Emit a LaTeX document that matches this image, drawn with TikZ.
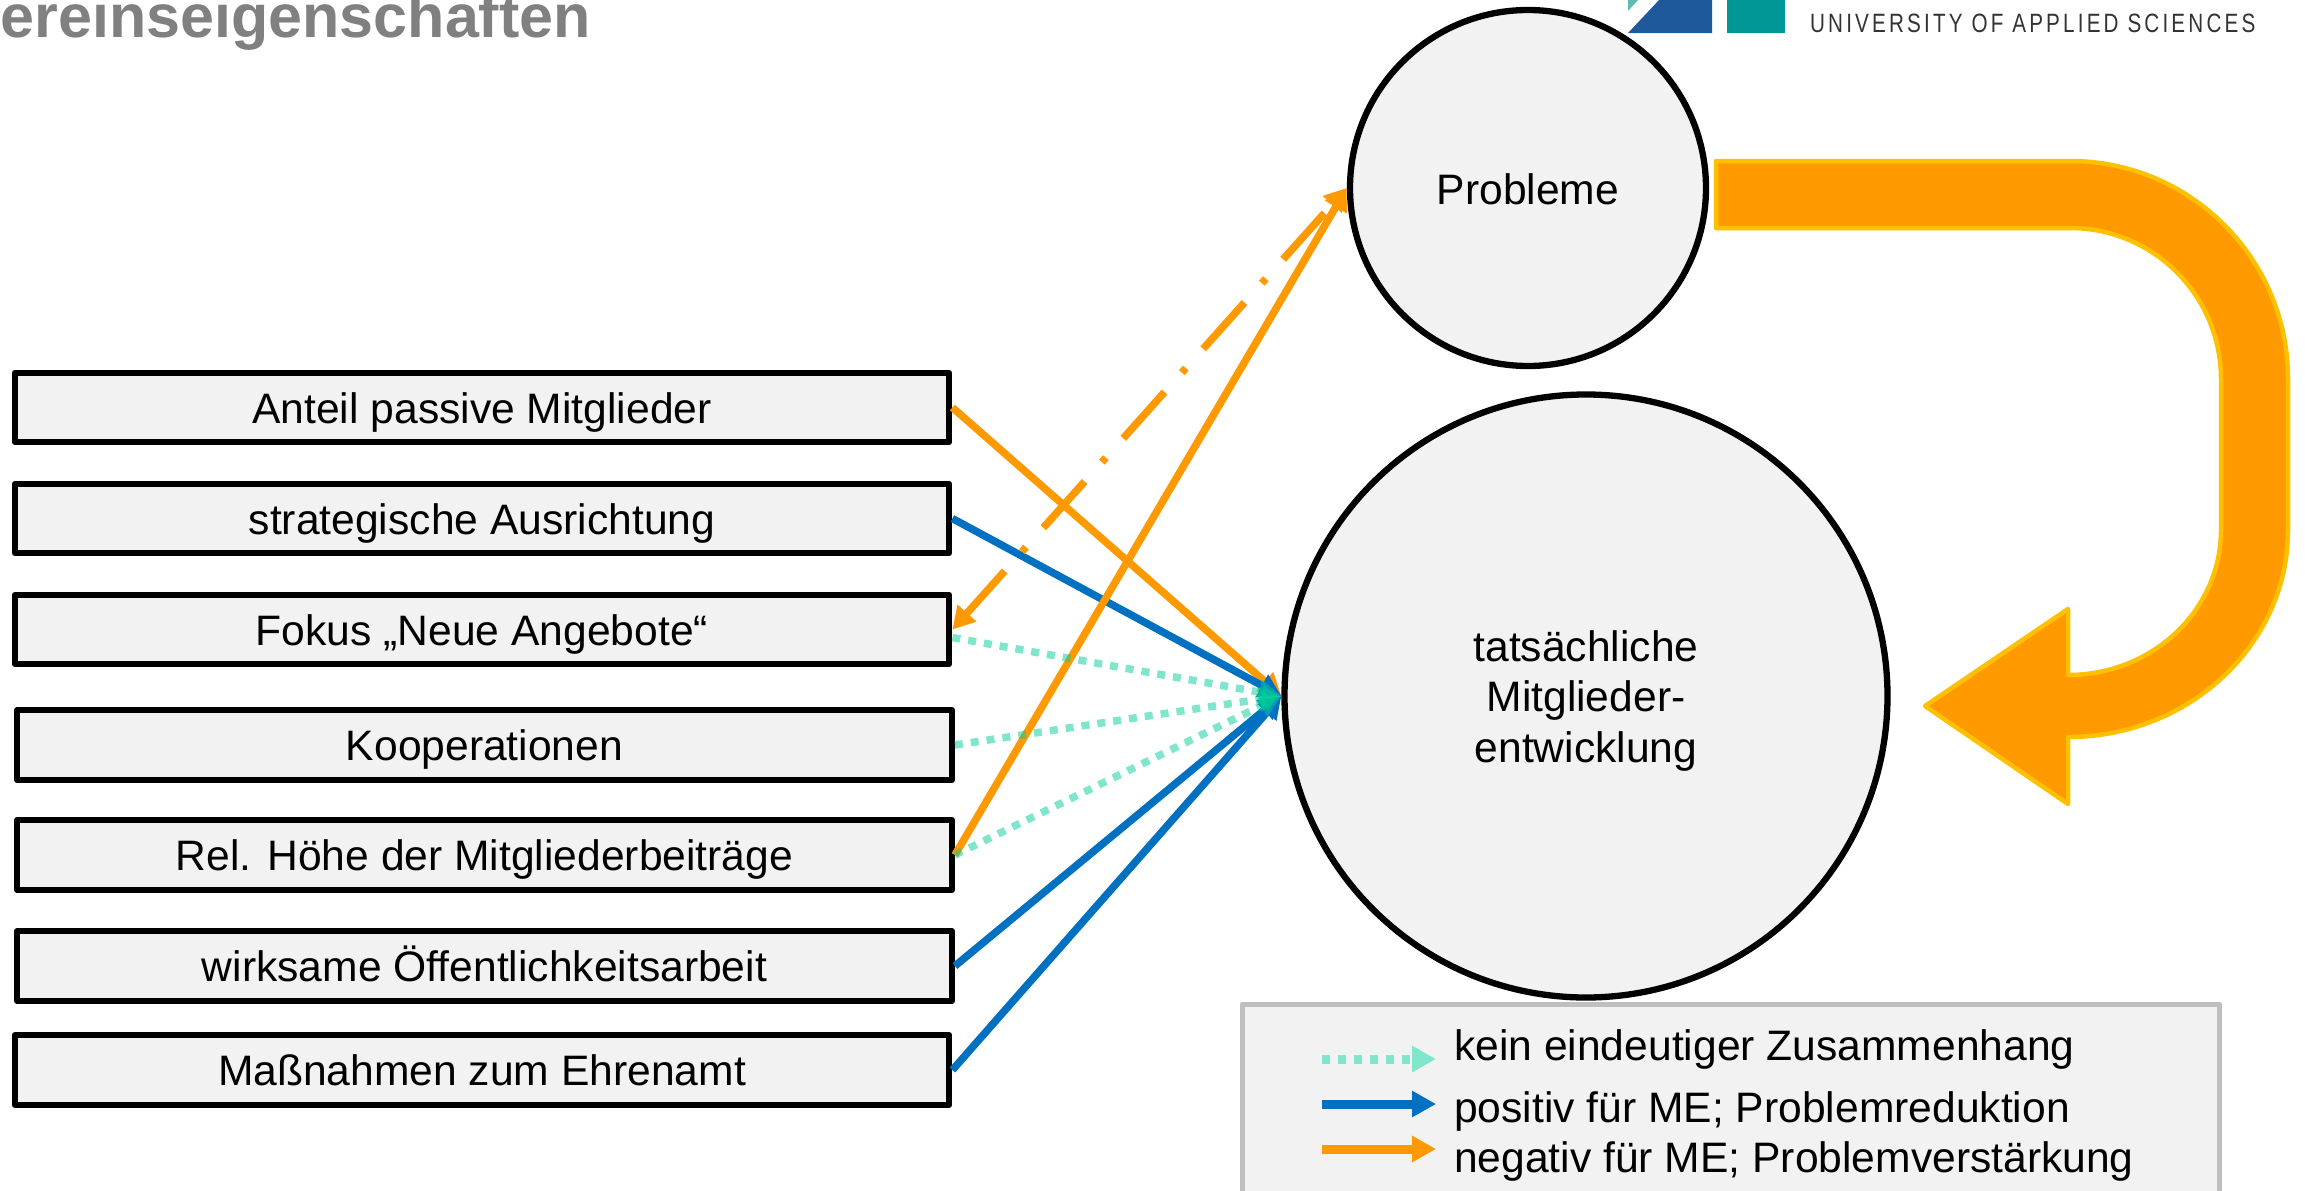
\documentclass[tikz,border=0pt]{standalone}
\usepackage{fontspec}
\setmainfont{Liberation Sans}
\newfontfamily\unifont[LetterSpace=15.3]{Liberation Sans}
\usepackage{xcolor}
\usetikzlibrary{arrows.meta}
\definecolor{posblue}{HTML}{0070C0}
\definecolor{negorange}{HTML}{FF9900}
\definecolor{edgeyellow}{HTML}{FFC000}
\definecolor{neutralgreen}{HTML}{00CC99}
\definecolor{lightfill}{HTML}{F2F2F2}
\definecolor{legendgray}{HTML}{BFBFBF}
\definecolor{logoblue}{HTML}{1E5A9B}
\definecolor{logoteal}{HTML}{009696}
\definecolor{logolight}{HTML}{5CBDB0}

\begin{document}
\begin{tikzpicture}[
  x=1pt, y=-1pt,
  every node/.style={font=\fontsize{42.6}{50.5}\selectfont},
  vbox/.style={rectangle,draw=black,fill=lightfill,line width=6.3pt,line join=round,
    minimum width=934.5pt,minimum height=69.5pt,inner sep=0pt,text height=33pt,text depth=2pt},
  bubble/.style={circle,draw=black,fill=lightfill,line width=6.3pt,inner sep=0pt,align=center},
  legendtext/.style={anchor=base west,inner sep=0pt},
  link/.style={line width=7.5pt,-{Triangle[length=22pt,width=24pt]}},
  poslink/.style={link,draw=posblue},
  neglink/.style={link,draw=negorange},
  neutrallink/.style={link,draw=neutralgreen,opacity=.5,dash pattern=on 8pt off 8pt},
  keyline/.style={line width=9pt,-{Triangle[length=24pt,width=25pt]}}
]
  \clip (0,0) rectangle (2305,1191);

  % header
  \node[anchor=base east,inner sep=0pt,text=black!50,font=\fontsize{61}{61}\selectfont\bfseries] (title) at (591,37) {ereinseigenschaften};
  \fill[logoblue] (1628,33) -- (1712,33) -- (1712,-1) -- (1660,-1) -- cycle;
  \fill[logolight] (1628,11) -- (1639,-1) -- (1628,-1) -- cycle;
  \fill[logoteal] (1727,-1) rectangle (1785,33);
  \node[anchor=base west,inner sep=0pt,text=black!80,xscale=.78,font=\fontsize{26.5}{30}\selectfont\unifont] (uni) at (1810,32) {UNIVERSITY OF APPLIED SCIENCES};

  % left column
  \node[vbox] (anteil) at (482,407.5) {Anteil passive Mitglieder};
  \node[vbox] (strategie) at (482,518.5) {strategische Ausrichtung};
  \node[vbox] (fokus) at (482,629.5) {Fokus „Neue Angebote“};
  \node[vbox] (koop) at (484.5,745) {Kooperationen};
  \node[vbox] (beitrag) at (484.5,855) {Rel. Höhe der Mitgliederbeiträge};
  \node[vbox] (oeffentlich) at (484.5,966) {wirksame Öffentlichkeitsarbeit};
  \node[vbox] (ehrenamt) at (482,1070) {Maßnahmen zum Ehrenamt};

  % circles
  \node[bubble,minimum size=356pt,text height=33.6pt] (probleme) at (1528,188) {Probleme};
  \node[bubble,minimum size=603pt] (me) at (1586,696) {\rule{0pt}{40pt}tatsächliche\\Mitglieder-\\entwicklung};

  % big bent arrow
  \filldraw[fill=negorange,draw=edgeyellow,line width=4.5pt,line join=round]
    (1716,161) -- (2070,161) arc[start angle=270,end angle=360,radius=218]
    -- (2288,530) arc[start angle=0,end angle=90,x radius=220,y radius=207]
    -- (2068,804) -- (1925,706) -- (2068,609) -- (2068,675)
    arc[start angle=90,end angle=0,x radius=153,y radius=145]
    -- (2221,379) arc[start angle=360,end angle=270,radius=151]
    -- (1716,228) -- cycle;

  % connectors
  \draw[neglink] (anteil.east) -- (me.west);
  \draw[poslink] (strategie.east) -- (me.west);
  \draw[poslink] (oeffentlich.east) -- (me.west);
  \draw[poslink] (ehrenamt.east) -- (me.west);
  \draw[neglink] (beitrag.east) -- (probleme.west);
  \draw[neglink,{Triangle[length=22pt,width=24pt]}-{Triangle[length=22pt,width=24pt]},dash pattern=on 62pt off 26pt on 6pt off 26pt,dash phase=107pt] (probleme.west) -- (fokus.east);
  \draw[neutrallink] ([yshift=-8pt]fokus.east) -- (me.west);
  \draw[neutrallink] (koop.east) -- (me.west);
  \draw[neutrallink] (beitrag.east) -- (me.west);

  % legend
  \node[rectangle,draw=legendgray,fill=lightfill,line width=5pt,line join=round,minimum width=977pt,minimum height=236pt] (legend) at (1731,1122) {};
  \node[legendtext] (kein) at (1454,1060) {kein eindeutiger Zusammenhang};
  \node[legendtext] (positiv) at (1454,1122) {positiv für ME; Problemreduktion};
  \node[legendtext] (negativ) at (1454,1172) {negativ für ME; Problemverstärkung};
  \coordinate (keinstart) at (1322,1059);
  \coordinate (keinend) at (1436,1059);
  \coordinate (posstart) at (1322,1104);
  \coordinate (posend) at (1436,1104);
  \coordinate (negstart) at (1322,1149);
  \coordinate (negend) at (1436,1149);
  \draw[keyline,draw=neutralgreen!50,dash pattern=on 8pt off 8pt] (keinstart) -- (keinend);
  \draw[keyline,draw=posblue] (posstart) -- (posend);
  \draw[keyline,draw=negorange] (negstart) -- (negend);
\end{tikzpicture}
\end{document}
